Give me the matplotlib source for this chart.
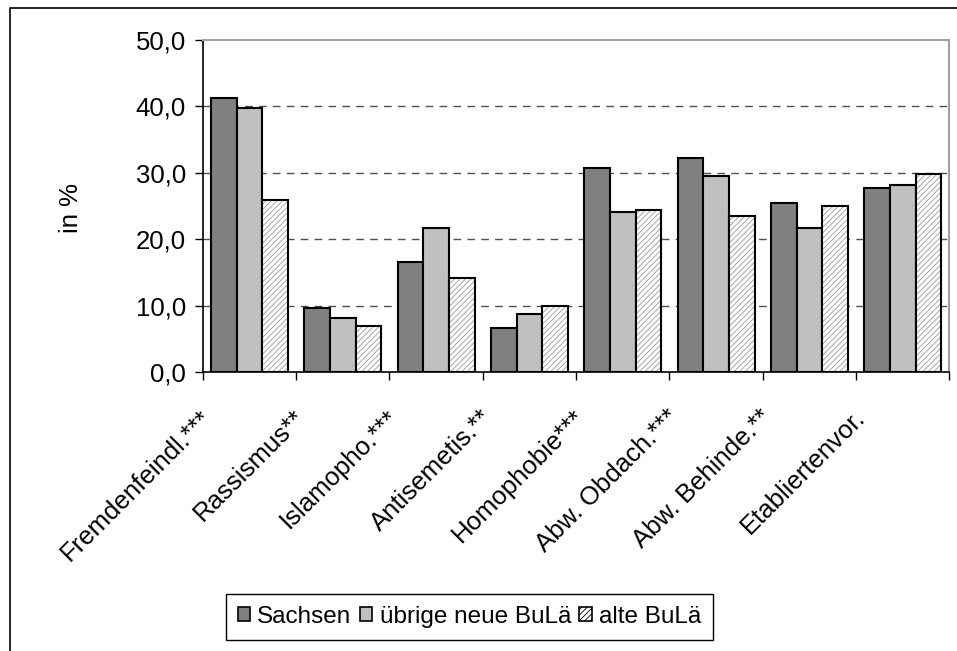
import numpy as np
import matplotlib
matplotlib.use("Agg")
import matplotlib.pyplot as plt
import matplotlib.transforms as mtransforms
from matplotlib.lines import Line2D
from matplotlib.patches import Patch
from matplotlib.ticker import FuncFormatter, FixedLocator

plt.rcParams['font.family'] = ['Liberation Sans', 'DejaVu Sans']
plt.rcParams['hatch.linewidth'] = 0.6

categories = ["Fremdenfeindl.***", "Rassismus**", "Islamopho.***", "Antisemetis.**",
              "Homophobie***", "Abw. Obdach.***", "Abw. Behinde.**", "Etabliertenvor."]
sachsen = [41.3, 9.7, 16.6, 6.6, 30.7, 32.3, 25.4, 27.7]
uebrige = [39.8, 8.1, 21.7, 8.7, 24.1, 29.5, 21.7, 28.1]
alte = [25.9, 6.9, 14.2, 10.0, 24.4, 23.5, 25.0, 29.8]
series_names = ["Sachsen", "übrige neue BuLä", "alte BuLä"]

FS = 18.5

fig = plt.figure(figsize=(9.57, 6.51), dpi=100)
ax = fig.add_axes([0.2118, 0.4286, 0.7802, 0.51])

x = np.arange(len(categories))
w = 0.275

ax.bar(x - w, sachsen, w, color="#808080", edgecolor="black", linewidth=1.5, zorder=3)
ax.bar(x, uebrige, w, color="#c0c0c0", edgecolor="black", linewidth=1.5, zorder=3)
# hatched bars: pattern in gray, outline in black drawn on top
ax.bar(x + w, alte, w, color="white", edgecolor="#9a9a9a", hatch="//////", linewidth=0, zorder=3)
ax.bar(x + w, alte, w, fill=False, edgecolor="black", linewidth=1.5, zorder=4)

ax.set_xlim(-0.5, len(categories) - 0.5)
ax.set_ylim(0, 50)
ax.set_yticks([0, 10, 20, 30, 40, 50])
ax.yaxis.set_major_formatter(FuncFormatter(lambda v, p: ("%.1f" % v).replace(".", ",")))
for yv in [10, 20, 30, 40]:
    ax.axhline(yv, color="#505050", linewidth=1.0, dashes=(5.5, 4.5), zorder=1)

ax.xaxis.set_major_locator(FixedLocator(np.arange(len(categories) + 1) - 0.5))
ax.set_xticklabels([])
ax.set_xticks(x, minor=True)
ax.set_xticklabels(categories, minor=True, rotation=45, ha="right", va="top",
                   rotation_mode="anchor", fontsize=FS)
ax.tick_params(axis="x", which="minor", length=0, pad=24)
ax.tick_params(axis="x", which="major", direction="out", length=6, width=1)
ax.tick_params(axis="y", direction="out", length=6, width=1, labelsize=FS, pad=6)
shift = mtransforms.ScaledTranslation(-50 / 100, 0, fig.dpi_scale_trans)
for lbl in ax.get_xticklabels(minor=True):
    lbl.set_transform(lbl.get_transform() + shift)

ax.spines["left"].set_color("black")
ax.spines["bottom"].set_color("black")
ax.spines["left"].set_linewidth(1.2)
ax.spines["bottom"].set_linewidth(1.2)
ax.spines["top"].set_color("#a0a0a0")
ax.spines["right"].set_color("#a0a0a0")
ax.spines["top"].set_linewidth(1.5)
ax.spines["right"].set_linewidth(1.5)

ax.set_ylabel("in %", fontsize=FS)
ax.yaxis.set_label_coords(83 / 957, 1 - 208 / 651, transform=fig.transFigure)

handles = [Patch(facecolor="#808080", edgecolor="black", linewidth=1.2),
           Patch(facecolor="#c0c0c0", edgecolor="black", linewidth=1.2),
           Patch(facecolor="white", edgecolor="black", hatch="//////", linewidth=1.2)]
fig.legend(handles, series_names, loc="center", bbox_to_anchor=(469.5 / 957, 1 - 617 / 651),
           ncol=3, fontsize=17.5, frameon=True, fancybox=False, edgecolor="black",
           handlelength=0.5, handleheight=0.5, handletextpad=0.3, columnspacing=0.35,
           borderpad=0.5, borderaxespad=0, framealpha=1)

# outer frame of the chart area (left and top visible)
fig.add_artist(Line2D([10 / 957, 10 / 957, 1.0], [0.0, 1 - 7.5 / 651, 1 - 7.5 / 651],
                      transform=fig.transFigure, color="black", linewidth=1.2))

fig.savefig("out.png", dpi=100)
